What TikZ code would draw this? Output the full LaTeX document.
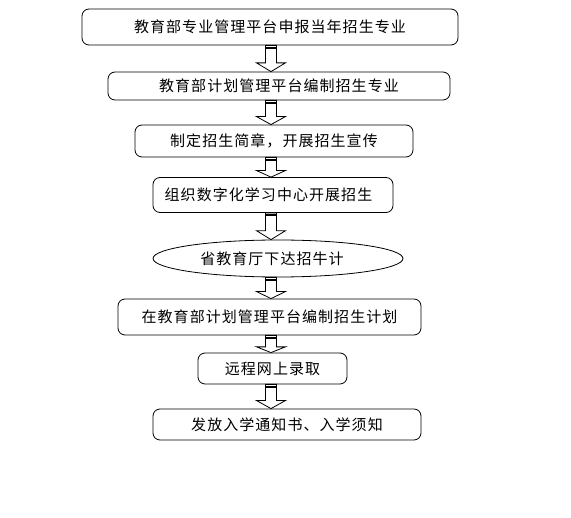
\documentclass[tikz,border=0pt]{standalone}
\usepackage{fontspec}
\newfontfamily\cjk[LetterSpace=7]{Noto Sans CJK SC}
\usetikzlibrary{shapes.geometric,calc}
\tikzset{
  boxfont/.style={font=\cjk\fontsize{15}{17}\selectfont},
  stepbox/.style={draw=black,line width=0.8pt,rounded corners=7pt,inner sep=0pt,boxfont},
  ovalbox/.style={draw=black,ellipse,line width=0.8pt,inner sep=0pt,boxfont},
  blockarr/.style={draw=black,fill=white,line width=0.8pt,line join=miter},
  arrbar/.style={draw=black,line width=1.8pt}
}
\newcommand\blkarrow[2]{%
  \draw[blockarr] let \p1=(#1.south -| ax), \p2=(#2.north -| ax), \n1={(\y1-\y2)/3} in
    ({\x1-5.5pt},\y1) -- ({\x1+5.5pt},\y1) -- ({\x1+5.5pt},{\y2+\n1*1pt}) --
    ({\x1+14.5pt},{\y2+\n1*1pt}) -- (\x1,\y2) -- ({\x1-14.5pt},{\y2+\n1*1pt}) --
    ({\x1-5.5pt},{\y2+\n1*1pt}) -- cycle;
  \draw[arrbar] let \p1=(#1.south -| ax) in
    ({\x1-5.5pt},{\y1-2.5pt}) -- ({\x1+5.5pt},{\y1-2.5pt});
}
\begin{document}
\begin{tikzpicture}[x=1pt,y=-1pt]
  \useasboundingbox[fill=white] (0,0) rectangle (571,518);
  \coordinate (ax) at (271,0);
  \node[stepbox,minimum width=376pt,minimum height=36pt] (b1) at (270,27) {教育部专业管理平台申报当年招生专业};
  \node[stepbox,minimum width=342pt,minimum height=28pt] (b2) at (279,86) {教育部计划管理平台编制招生专业};
  \node[stepbox,minimum width=278pt,minimum height=32pt] (b3) at (274,141) {制定招生简章，开展招生宣传};
  \node[stepbox,minimum width=240pt,minimum height=35pt] (b4) at (273,195) {组织数字化学习中心开展招生\hspace*{9pt}};
  \node[ovalbox,minimum width=250pt,minimum height=37pt] (e1) at (278,258.5) {省教育厅下达招牛计\hspace*{12pt}};
  \node[stepbox,minimum width=303pt,minimum height=36pt] (b5) at (269.5,317) {在教育部计划管理平台编制招生计划};
  \node[stepbox,minimum width=149pt,minimum height=31pt] (b6) at (272.5,368.5) {远程网上录取};
  \node[stepbox,minimum width=268pt,minimum height=31pt] (b7) at (287,424.5) {发放入学通知书、入学须知};
  \blkarrow{b1}{b2}
  \blkarrow{b2}{b3}
  \blkarrow{b3}{b4}
  \blkarrow{b4}{e1}
  \blkarrow{e1}{b5}
  \blkarrow{b5}{b6}
  \blkarrow{b6}{b7}
\end{tikzpicture}
\end{document}
